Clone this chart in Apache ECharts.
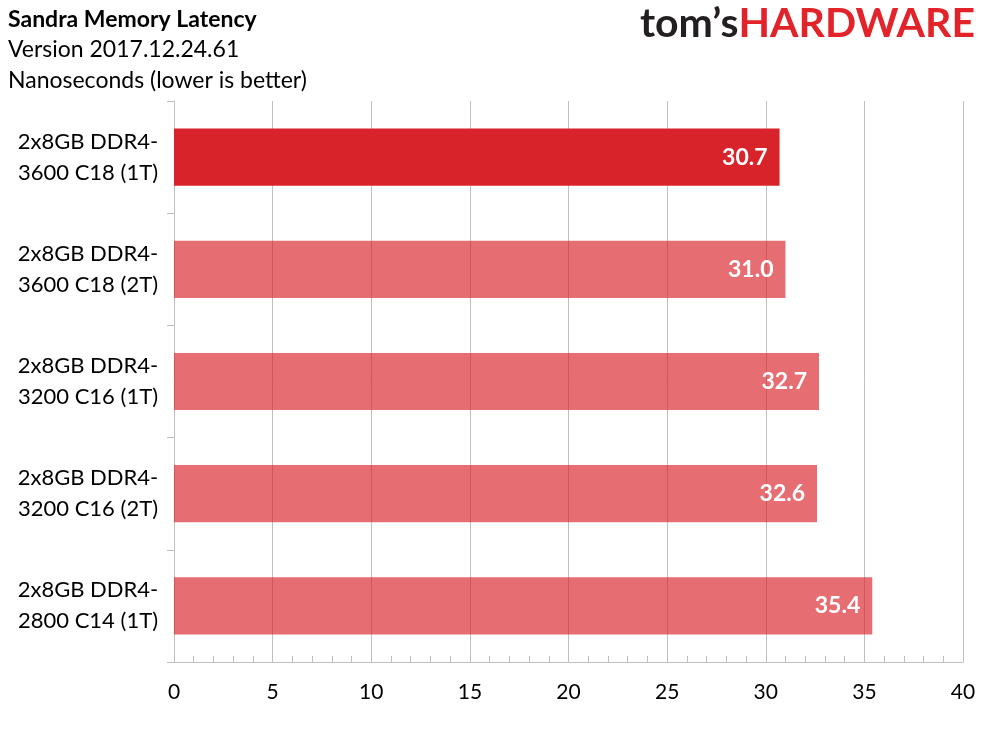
<!DOCTYPE html>
<html>
<head>
<meta charset="utf-8">
<script src="https://cdn.jsdelivr.net/npm/echarts@6/dist/echarts.min.js"></script>
<style>
  html, body { margin: 0; padding: 0; background: #fff; }
  #chart { width: 989px; height: 742px; }
</style>
</head>
<body>
<div id="chart"></div>
<script>
var categories = [
    "2x8GB DDR4-\n3600 C18 (1T)",
    "2x8GB DDR4-\n3600 C18 (2T)",
    "2x8GB DDR4-\n3200 C16 (1T)",
    "2x8GB DDR4-\n3200 C16 (2T)",
    "2x8GB DDR4-\n2800 C14 (1T)"
];
var latency = [30.7, 31.0, 32.7, 32.6, 35.4];
var highlight = [true, false, false, false, false];
var titleLines = ["Sandra Memory Latency", "Version 2017.12.24.61", "Nanoseconds (lower is better)"];

var font = "Lato, 'Open Sans', sans-serif";

// the highlighted bar is solid, the others are see-through (grid shows through them)
var barData = latency.map(function (v, i) {
    return {
        value: v,
        itemStyle: { color: highlight[i] ? '#D9232A' : 'rgba(217,35,42,0.66)' }
    };
});

var myChart = echarts.init(document.getElementById("chart"));
var option = {
    backgroundColor: '#fff',
    animation: false,
    textStyle: { fontFamily: font },
    grid: { left: 174, right: 26, top: 101, bottom: 80, containLabel: false },
    graphic: [
        { type: 'text', left: 8, top: 8, style: { text: titleLines[0], font: 'bold 23px ' + font, fill: '#000' } },
        { type: 'text', left: 8, top: 38, style: { text: titleLines[1], font: '23px ' + font, fill: '#000' } },
        { type: 'text', left: 8, top: 69, style: { text: titleLines[2], font: '23px ' + font, fill: '#000' } },
        {
            type: 'text', right: 14, top: 3,
            style: {
                text: '{a|tom\u2019s}{b|HARDWARE}',
                rich: {
                    a: { font: 'bold 41px ' + font, fill: '#231F20' },
                    b: { font: 'bold 41px ' + font, fill: '#E2232A' }
                }
            }
        }
    ],
    xAxis: {
        type: 'value',
        min: 0,
        max: 40,
        interval: 5,
        axisLine: { show: true, lineStyle: { color: '#BFBFBF', width: 1 } },
        axisTick: { show: false, inside: true },
        minorTick: { show: true, splitNumber: 5, length: 6, lineStyle: { color: '#BFBFBF' } },
        splitLine: { show: true, lineStyle: { color: '#BFBFBF', width: 1 } },
        axisLabel: { color: '#000', fontSize: 21, margin: 20, fontFamily: font }
    },
    yAxis: {
        type: 'category',
        inverse: true,
        data: categories,
        axisLine: { show: true, lineStyle: { color: '#BFBFBF', width: 1 } },
        axisTick: { show: true, length: 7, lineStyle: { color: '#BFBFBF' } },
        axisLabel: { color: '#000', fontSize: 22, lineHeight: 31, align: 'center', margin: 86, fontFamily: font }
    },
    series: [{
        type: 'bar',
        data: barData,
        barWidth: '51%',
        z: 1,
        label: {
            show: true,
            position: 'insideRight',
            distance: 12,
            color: '#fff',
            fontWeight: 'bold',
            fontSize: 23,
            fontFamily: font,
            formatter: function (p) { return p.value.toFixed(1); }
        }
    }]
};

if (option && typeof option === "object") {
    myChart.setOption(option, true);
}
</script>
</body>
</html>
